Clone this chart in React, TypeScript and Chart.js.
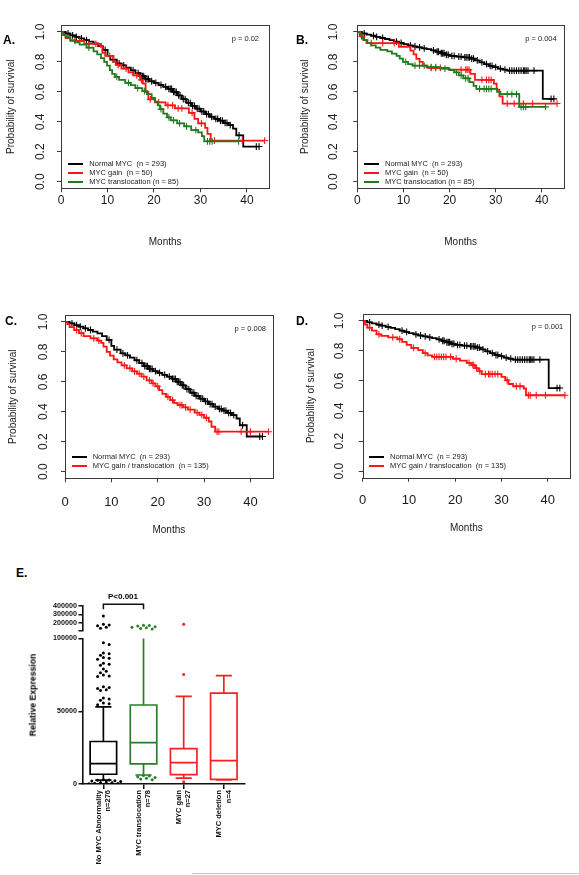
import React, { useEffect, useRef } from 'react';
import { Chart, registerables } from 'chart.js';

Chart.register(...registerables);
Chart.defaults.font.family = "'Liberation Sans', Arial, Helvetica, sans-serif";

type Pt = [number, number];

// ---------------- Kaplan–Meier data (months, survival probability) ----------------
const MONTH_TICKS = [0, 10, 20, 30, 40];
const SURVIVAL_TICKS = [0, 0.2, 0.4, 0.6, 0.8, 1.0];
const MONTH_MAX = 44.8;
const SURVIVAL_MIN = -0.044;
const SURVIVAL_MAX = 1.046;

// Panels A & C – Normal MYC (n = 293)
const osNormalSteps: Pt[] = [
  [0, 1], [1, 0.99], [2, 0.978], [3, 0.968], [4, 0.957], [5, 0.946], [6, 0.935], [7, 0.924],
  [8, 0.905], [9, 0.88], [10, 0.84], [10.6, 0.815], [12, 0.79], [13, 0.777], [14, 0.762],
  [15, 0.744], [16, 0.725], [17, 0.705], [18, 0.686], [19, 0.671], [20, 0.66], [21, 0.646],
  [22, 0.634], [23, 0.62], [24, 0.6], [25, 0.576], [26, 0.551], [27, 0.527], [28, 0.506],
  [29, 0.488], [30, 0.469], [31, 0.451], [32, 0.434], [33, 0.42], [34, 0.408], [35, 0.393],
  [36, 0.378], [37, 0.355], [37.7, 0.31], [39.2, 0.235], [42.6, 0.235],
];
const osNormalCensored: Pt[] = [
  [1.5, 0.99], [2.5, 0.978], [3.3, 0.968], [4.4, 0.957], [5.5, 0.946], [9.5, 0.88], [11.2, 0.815],
  [12.5, 0.79], [13.5, 0.777], [15.5, 0.744], [16.6, 0.725], [17.2, 0.705], [17.5, 0.705],
  [17.8, 0.705], [18.2, 0.686], [18.5, 0.686], [18.8, 0.686], [19.5, 0.671], [20.4, 0.66],
  [21.5, 0.646], [22.5, 0.634], [23.2, 0.62], [23.5, 0.62], [23.8, 0.62], [24.2, 0.6], [24.5, 0.6],
  [24.8, 0.6], [25.3, 0.576], [25.6, 0.576], [26.3, 0.551], [26.7, 0.551], [27.4, 0.527],
  [27.8, 0.527], [28.3, 0.506], [28.7, 0.506], [29.3, 0.488], [29.7, 0.488], [30.3, 0.469],
  [30.7, 0.469], [31.3, 0.451], [31.7, 0.451], [32.4, 0.434], [33.3, 0.42], [33.7, 0.42],
  [34.3, 0.408], [34.7, 0.408], [35.3, 0.393], [35.7, 0.393], [36.4, 0.378], [38.3, 0.31],
  [42, 0.235], [42.6, 0.235],
];
// Panel A – MYC gain (n = 50)
const osGainSteps: Pt[] = [
  [0, 1], [0.5, 0.98], [1, 0.96], [2, 0.94], [5, 0.92], [8.6, 0.9], [8.9, 0.86], [9.5, 0.84],
  [11.3, 0.8], [11.8, 0.78], [13, 0.755], [14.5, 0.73], [15.5, 0.71], [17, 0.68], [17.6, 0.655],
  [18.2, 0.6], [18.8, 0.55], [20.2, 0.53], [22.5, 0.51], [24.5, 0.49], [27.5, 0.46], [28.7, 0.42],
  [29.5, 0.39], [31, 0.36], [31.5, 0.32], [32.2, 0.275], [43.8, 0.275],
];
const osGainCensored: Pt[] = [
  [3, 0.94], [4, 0.94], [6, 0.92], [7.5, 0.92], [10.5, 0.84], [12.3, 0.78], [14, 0.755],
  [16.3, 0.71], [17.3, 0.68], [19.2, 0.55], [21, 0.53], [23, 0.51], [24, 0.51], [25.2, 0.49],
  [26, 0.49], [28.2, 0.46], [30.2, 0.39], [33, 0.275], [39, 0.275], [43.8, 0.275],
];
// Panel A – MYC translocation (n = 85)
const osTransSteps: Pt[] = [
  [0, 1], [0.5, 0.98], [1, 0.965], [2, 0.945], [3, 0.93], [4, 0.915], [5.5, 0.895], [7, 0.87],
  [7.8, 0.85], [8.6, 0.825], [9.3, 0.8], [9.9, 0.775], [10.5, 0.745], [11, 0.72], [11.6, 0.7],
  [12.5, 0.68], [13.8, 0.66], [15, 0.645], [16, 0.625], [17.5, 0.605], [18.5, 0.585], [19.5, 0.56],
  [20.2, 0.535], [20.8, 0.51], [21.3, 0.485], [22, 0.455], [22.8, 0.43], [23.6, 0.41], [25, 0.39],
  [26.5, 0.37], [28, 0.345], [29.5, 0.33], [30.3, 0.305], [30.8, 0.27], [38.2, 0.27],
];
const osTransCensored: Pt[] = [
  [6, 0.895], [12, 0.7], [14.5, 0.66], [16.5, 0.625], [18, 0.605], [21.5, 0.485], [23.2, 0.43],
  [24.2, 0.41], [25.5, 0.39], [27, 0.37], [29, 0.345], [31.5, 0.27], [32, 0.27], [32.5, 0.27],
  [38.2, 0.27],
];
// Panel C – MYC gain / translocation (n = 135)
const osGainTransSteps: Pt[] = [
  [0, 1], [0.5, 0.985], [1, 0.965], [2, 0.945], [3, 0.925], [4, 0.905], [5.5, 0.89], [7, 0.875],
  [7.8, 0.86], [8.3, 0.835], [9, 0.8], [9.7, 0.775], [10.5, 0.75], [11.3, 0.73], [12.2, 0.71],
  [13.3, 0.69], [14.5, 0.67], [15.5, 0.655], [16.5, 0.635], [17.6, 0.61], [18.7, 0.59], [19.5, 0.57],
  [20.3, 0.545], [21, 0.52], [21.8, 0.5], [22.7, 0.478], [23.5, 0.46], [24.3, 0.445], [25.5, 0.43],
  [26.5, 0.415], [28, 0.395], [29, 0.38], [30, 0.36], [31, 0.335], [31.6, 0.3], [32.4, 0.267],
  [43.9, 0.267],
];
const osGainTransCensored: Pt[] = [
  [2.5, 0.945], [3.5, 0.925], [6.2, 0.89], [7.3, 0.875], [12.8, 0.71], [14, 0.69], [15, 0.67],
  [16, 0.655], [17, 0.635], [18.2, 0.61], [19, 0.59], [20, 0.57], [22.2, 0.5], [23.2, 0.478],
  [24.8, 0.445], [25.2, 0.445], [26, 0.43], [27, 0.415], [28.5, 0.395], [29.5, 0.38], [30.5, 0.36],
  [32.8, 0.267], [33.2, 0.267], [38, 0.267], [40, 0.267], [43.9, 0.267],
];

// Panels B & D – Normal MYC (n = 293)
const pfsNormalSteps: Pt[] = [
  [0, 1], [1, 0.99], [2, 0.983], [3, 0.975], [4, 0.968], [5, 0.96], [6, 0.953], [7, 0.945],
  [8, 0.935], [9, 0.927], [10, 0.918], [11, 0.91], [12, 0.903], [13, 0.897], [14, 0.891],
  [15, 0.885], [16, 0.877], [17, 0.868], [18, 0.858], [19, 0.848], [20, 0.84], [21.5, 0.835],
  [23, 0.83], [24.5, 0.822], [25.5, 0.81], [26.5, 0.797], [27.5, 0.785], [28.5, 0.773],
  [29.5, 0.765], [30.5, 0.755], [31.5, 0.748], [32.5, 0.742], [40.2, 0.553], [42.6, 0.553],
];
const pfsNormalCensored: Pt[] = [
  [1.5, 0.99], [3.5, 0.975], [4.2, 0.968], [5.5, 0.96], [8.5, 0.935], [9.5, 0.927], [11.5, 0.91],
  [12.5, 0.903], [13.5, 0.897], [14.5, 0.891], [16.5, 0.877], [17.3, 0.868], [17.6, 0.868],
  [18.2, 0.858], [18.5, 0.858], [18.8, 0.858], [19.3, 0.848], [19.7, 0.848], [20.5, 0.84],
  [21, 0.84], [22, 0.835], [22.5, 0.835], [23.3, 0.83], [23.6, 0.83], [24, 0.83], [24.3, 0.83],
  [24.8, 0.822], [25.2, 0.822], [26, 0.81], [27, 0.797], [28, 0.785], [28.8, 0.773], [29.2, 0.773],
  [30, 0.765], [31, 0.755], [32, 0.748], [33, 0.742], [33.5, 0.742], [34, 0.742], [34.5, 0.742],
  [35, 0.742], [35.5, 0.742], [36, 0.742], [36.3, 0.742], [36.6, 0.742], [37, 0.742], [38.3, 0.742],
  [42, 0.553], [42.6, 0.553],
];
// Panel B – MYC gain (n = 50)
const pfsGainSteps: Pt[] = [
  [0, 1], [0.7, 0.97], [1.3, 0.945], [2, 0.925], [9, 0.9], [11.5, 0.875], [12.2, 0.85],
  [12.8, 0.82], [13.5, 0.8], [14.2, 0.775], [15.2, 0.76], [19.8, 0.748], [24.5, 0.72], [25.5, 0.68],
  [29.6, 0.655], [30.2, 0.615], [30.8, 0.57], [31.5, 0.522], [43.3, 0.522],
];
const pfsGainCensored: Pt[] = [
  [1, 0.97], [3, 0.925], [5.5, 0.925], [8, 0.925], [16, 0.76], [17, 0.76], [18, 0.76],
  [22.5, 0.748], [23.5, 0.748], [23.8, 0.748], [24.2, 0.748], [27, 0.68], [28, 0.68], [28.5, 0.68],
  [29, 0.68], [32.5, 0.522], [34, 0.522], [36, 0.522], [38, 0.522], [43.3, 0.522],
];
// Panel B – MYC translocation (n = 85)
const pfsTransSteps: Pt[] = [
  [0, 1], [0.5, 0.978], [1, 0.96], [1.5, 0.945], [2.2, 0.925], [3, 0.91], [4, 0.895], [5, 0.88],
  [6.5, 0.87], [7.5, 0.855], [8.5, 0.84], [9.2, 0.822], [9.9, 0.8], [11, 0.785], [12, 0.775],
  [15, 0.765], [18, 0.755], [20, 0.745], [21, 0.73], [22, 0.71], [23, 0.69], [24.3, 0.665],
  [25.2, 0.64], [25.8, 0.62], [30.3, 0.6], [31, 0.585], [35.1, 0.5], [40.8, 0.5],
];
const pfsTransCensored: Pt[] = [
  [10.5, 0.8], [12.5, 0.775], [13.5, 0.775], [14.5, 0.775], [16, 0.765], [17, 0.765], [19, 0.755],
  [21.5, 0.73], [22.5, 0.71], [23.5, 0.69], [24, 0.69], [26.5, 0.62], [27.5, 0.62], [28, 0.62],
  [28.5, 0.62], [29, 0.62], [32.5, 0.585], [33.5, 0.585], [34.5, 0.585], [35.5, 0.5], [36, 0.5],
  [36.5, 0.5], [40.8, 0.5],
];
// Panel D – MYC gain / translocation (n = 135)
const pfsGainTransSteps: Pt[] = [
  [0, 1], [0.5, 0.975], [1, 0.955], [2, 0.935], [3, 0.91], [4, 0.9], [5.5, 0.89], [7.5, 0.878],
  [8.5, 0.86], [9.5, 0.84], [10.5, 0.82], [12, 0.805], [13, 0.785], [14, 0.77], [15, 0.76],
  [19.5, 0.748], [21, 0.735], [22.5, 0.72], [23.5, 0.705], [24.3, 0.685], [25, 0.665],
  [25.7, 0.645], [30, 0.627], [30.8, 0.605], [31.5, 0.58], [32.5, 0.565], [34.8, 0.55],
  [35.3, 0.505], [43.7, 0.505],
];
const pfsGainTransCensored: Pt[] = [
  [1.5, 0.955], [3.5, 0.91], [6.5, 0.89], [8, 0.878], [11, 0.82], [13.5, 0.785], [15.5, 0.76],
  [16, 0.76], [16.5, 0.76], [17, 0.76], [17.5, 0.76], [18, 0.76], [19, 0.76], [20.2, 0.748],
  [23, 0.72], [23.8, 0.705], [24, 0.705], [24.6, 0.685], [25.3, 0.665], [26.5, 0.645], [27.2, 0.645],
  [27.5, 0.645], [28, 0.645], [28.6, 0.645], [29.2, 0.645], [31.2, 0.605], [33.2, 0.565],
  [34, 0.565], [35.8, 0.505], [36.2, 0.505], [37.5, 0.505], [39.5, 0.505], [43.7, 0.505],
];

const LABEL_NORMAL = 'Normal MYC  (n = 293)';
const LABEL_GAIN = 'MYC gain  (n = 50)';
const LABEL_TRANS = 'MYC translocation (n = 85)';
const LABEL_GAIN_TRANS = 'MYC gain / translocation  (n = 135)';
const P_VALUES = ['p = 0.02', 'p = 0.004', 'p = 0.008', 'p = 0.001'];

// ---------------- Panel E: relative MYC expression ----------------
const exprGroups = ['No MYC Abnormality', 'MYC translocation', 'MYC gain', 'MYC deletion'];
const exprCounts = ['n=276', 'n=78', 'n=27', 'n=4'];
const exprQ1 = [6700, 13800, 6400, 3200];
const exprMedian = [14000, 28500, 14700, 16000];
const exprQ3 = [29200, 54300, 24300, 62500];
const exprWhiskerLow = [2700, 6200, 4100, 2800];
const exprWhiskerHigh = [53000, 100000, 60200, 74500];
const exprHighCapShown = [true, false, true, true];
const outliersNoAbnLower = [
  97000, 95800, 90100, 89600, 88500, 87000, 86500, 85800, 83000, 82300, 81600, 79000, 77500,
  76400, 75000, 74300, 73800, 66900, 66400, 65700, 64800, 64300, 59100, 58400, 57500, 55600,
  55200, 54500, 2900, 2750, 2600, 2300, 2000, 1700, 1400, 1100, 800, 500, 300, 150,
];
const outliersNoAbnUpper = [280000, 181000, 172000, 164000, 145000, 133000];
const outliersTransLower = [5900, 5500, 5000, 4500, 4000, 3400, 2900];
const outliersTransUpper = [168000, 165000, 160000, 152000, 145000, 138000, 130000, 125000];
const outliersGainLower = [75200, 1600];
const outliersGainUpper = [180000];
const EXPR_LOWER_TICKS = [0, 50000, 100000];
const EXPR_UPPER_TICKS = [100000, 200000, 300000, 400000];
const EXPR_LOWER_MAX = 100000;
const EXPR_UPPER_MIN = 100000;
const EXPR_UPPER_MAX = 400000;
const bracketGroups = [0, 1];
const bracketLevel = 420000;
const bracketFoot = 360000;
const bracketText = 'P<0.001';

// ---------------- styling ----------------
const FONT = "'Liberation Sans', Arial, Helvetica, sans-serif";
const BLACK = '#000000';
const RED = '#ff1414';
const GREEN = '#1f7a1f';
const E_GREEN = '#2a7d2a';
const E_RED = '#f22222';
const TEXT = '#1a1a1a';
const FRAME = '#3a3a3a';

type Curve = { steps: Pt[]; censored: Pt[]; color: string; label: string };
type KMLayout = {
  left: number; top: number; width: number; height: number;
  yAxisWidth: number; xAxisHeight: number; padTop: number; padRight: number;
  yTickPad: number; yTitlePad: number; xTickPad: number; xTickSize: number; xTitlePad: number;
};

const framePlugin = {
  id: 'kmFrame',
  afterDatasetsDraw(chart: any) {
    const { ctx, chartArea: a } = chart;
    ctx.save();
    ctx.strokeStyle = FRAME;
    ctx.lineWidth = 1;
    ctx.strokeRect(Math.round(a.left) + 0.5, Math.round(a.top) + 0.5, Math.round(a.right - a.left), Math.round(a.bottom - a.top));
    ctx.restore();
  },
};

function KMChart({ layout, curves }: { layout: KMLayout; curves: Curve[] }) {
  const ref = useRef<HTMLCanvasElement>(null);
  useEffect(() => {
    const L = layout;
    const n = curves.length;
    const datasets: any[] = [];
    curves.forEach((c, i) => {
      const base = (n - i) * 2;
      datasets.push({
        data: c.steps.map(([x, y]) => ({ x, y })),
        borderColor: c.color, borderWidth: 1.8, stepped: true, pointRadius: 0,
        fill: false, order: base, borderCapStyle: 'butt', borderJoinStyle: 'miter',
      });
      datasets.push({
        data: c.censored.map(([x, y]) => ({ x, y })),
        showLine: false, pointStyle: 'cross', pointRadius: 3.4, pointBorderWidth: 1.1,
        pointBorderColor: c.color, pointBackgroundColor: c.color, borderColor: c.color, order: base - 1,
      });
    });
    const grid = { drawOnChartArea: false, drawTicks: true, tickLength: 4, color: FRAME, lineWidth: 1 };
    const chart = new Chart(ref.current as HTMLCanvasElement, {
      type: 'line',
      data: { datasets },
      options: {
        animation: false, responsive: false, events: [],
        layout: { padding: { top: L.padTop, right: L.padRight, left: 0, bottom: 0 } },
        plugins: { legend: { display: false }, tooltip: { enabled: false } },
        scales: {
          x: {
            type: 'linear', min: 0, max: MONTH_MAX,
            afterBuildTicks: (s: any) => { s.ticks = MONTH_TICKS.map((value) => ({ value })); },
            afterFit: (s: any) => { s.height = L.xAxisHeight; s.paddingLeft = 0; s.paddingRight = 0; },
            border: { display: false },
            grid,
            ticks: {
              color: TEXT, font: { size: L.xTickSize, lineHeight: 1 }, padding: L.xTickPad,
              minRotation: 0, maxRotation: 0, autoSkip: false, callback: (v: any) => String(v),
            },
            title: { display: true, text: 'Months', color: TEXT, font: { size: 10, lineHeight: 1.2 }, padding: { top: 0, bottom: L.xTitlePad } },
          },
          y: {
            type: 'linear', min: SURVIVAL_MIN, max: SURVIVAL_MAX,
            afterBuildTicks: (s: any) => { s.ticks = SURVIVAL_TICKS.map((value) => ({ value })); },
            afterFit: (s: any) => { s.width = L.yAxisWidth; s.paddingTop = 0; s.paddingBottom = 0; },
            border: { display: false },
            grid,
            ticks: {
              color: TEXT, font: { size: 12, lineHeight: 1 }, padding: L.yTickPad,
              minRotation: 90, maxRotation: 90, crossAlign: 'center', autoSkip: false,
              callback: (v: any) => Number(v).toFixed(1),
            },
            title: { display: true, text: 'Probability of survival', color: TEXT, font: { size: 10, lineHeight: 1.2 }, padding: { top: L.yTitlePad, bottom: 0 } },
          },
        },
      } as any,
      plugins: [framePlugin],
    });
    return () => chart.destroy();
  }, []);
  return (
    <canvas ref={ref} width={layout.width} height={layout.height}
      style={{ position: 'absolute', left: layout.left, top: layout.top, width: layout.width, height: layout.height, display: 'block' }} />
  );
}

// beeswarm placement of dots (layout only; values come from the arrays above)
function swarm(center: number, values: number[], pxPerValue: number, pxPerCat: number, gap = 3.4) {
  const placed: { x: number; y: number }[] = [];
  const out: { x: number; y: number }[] = [];
  [...values].sort((a, b) => b - a).forEach((v) => {
    const py = v * pxPerValue;
    for (let k = 0; k < 60; k++) {
      const off = (k === 0 ? 0 : (k % 2 ? 1 : -1) * Math.ceil(k / 2)) * gap * 0.85;
      if (placed.every((p) => Math.hypot(p.x - off, p.y - py) >= gap)) {
        placed.push({ x: off, y: py });
        out.push({ x: center + off / pxPerCat, y: v });
        break;
      }
    }
  });
  return out;
}

const E_LAYOUT = { left: 0, top: 585, width: 260, height: 290, yAxisWidth: 82.5, xAxisHeight: 91, padTop: 21, padRight: 15.7 };
const E_X_MIN = -0.52;
const E_X_MAX = 3.51;
const E_WEIGHTS = { top: 25, gap: 7.5, bottom: 145.5 };
const BOX_HALF = 0.33;
const CAP_HALF = 0.18;

function ExpressionChart() {
  const ref = useRef<HTMLCanvasElement>(null);
  useEffect(() => {
    const colors = [BLACK, E_GREEN, E_RED, E_RED];
    const plotW = E_LAYOUT.width - E_LAYOUT.yAxisWidth - E_LAYOUT.padRight;
    const pxPerCat = plotW / (E_X_MAX - E_X_MIN);
    const pxLower = E_WEIGHTS.bottom / EXPR_LOWER_MAX;
    const pxUpper = E_WEIGHTS.top / (EXPR_UPPER_MAX - EXPR_UPPER_MIN);

    const datasets: any[] = [];
    exprGroups.forEach((_, g) => {
      const gap = { x: g, y: null };
      const pts: any[] = [
        { x: g - BOX_HALF, y: exprQ1[g] }, { x: g - BOX_HALF, y: exprQ3[g] },
        { x: g + BOX_HALF, y: exprQ3[g] }, { x: g + BOX_HALF, y: exprQ1[g] },
        { x: g - BOX_HALF, y: exprQ1[g] }, gap,
        { x: g - BOX_HALF, y: exprMedian[g] }, { x: g + BOX_HALF, y: exprMedian[g] }, gap,
        { x: g, y: exprQ3[g] }, { x: g, y: exprWhiskerHigh[g] }, gap,
        ...(exprHighCapShown[g] ? [{ x: g - CAP_HALF, y: exprWhiskerHigh[g] }, { x: g + CAP_HALF, y: exprWhiskerHigh[g] }, gap] : []),
        { x: g, y: exprQ1[g] }, { x: g, y: exprWhiskerLow[g] }, gap,
        { x: g - CAP_HALF, y: exprWhiskerLow[g] }, { x: g + CAP_HALF, y: exprWhiskerLow[g] },
      ];
      datasets.push({
        data: pts, yAxisID: 'yBot', showLine: true, spanGaps: false, pointRadius: 0,
        borderColor: colors[g], borderWidth: 1.7, borderCapStyle: 'square', borderJoinStyle: 'miter', order: 2,
      });
    });
    const dots = (g: number, values: number[], axis: string) => ({
      data: swarm(g, values, axis === 'yBot' ? pxLower : pxUpper, pxPerCat),
      yAxisID: axis, showLine: false, pointRadius: 1.5, pointBorderWidth: 0,
      pointBackgroundColor: colors[g], backgroundColor: colors[g], order: 1,
    });
    datasets.push(dots(0, outliersNoAbnLower, 'yBot'));
    datasets.push(dots(0, outliersNoAbnUpper, 'yTop'));
    datasets.push(dots(1, outliersTransLower, 'yBot'));
    datasets.push(dots(1, outliersTransUpper, 'yTop'));
    datasets.push(dots(2, outliersGainLower, 'yBot'));
    datasets.push(dots(2, outliersGainUpper, 'yTop'));
    datasets.push({
      data: [
        { x: bracketGroups[0], y: bracketFoot }, { x: bracketGroups[0], y: bracketLevel },
        { x: bracketGroups[1], y: bracketLevel }, { x: bracketGroups[1], y: bracketFoot },
      ],
      yAxisID: 'yTop', showLine: true, pointRadius: 0, borderColor: '#111', borderWidth: 1.5, clip: false, order: 0,
    });

    const fitY = (s: any) => { s.width = E_LAYOUT.yAxisWidth; s.paddingTop = 0; s.paddingBottom = 0; };
    const yGrid = { drawOnChartArea: false, drawTicks: true, tickLength: 4, color: '#111', lineWidth: 1.5 };
    const yTicks = { padding: 1.5, color: '#111', font: { size: 7.2, weight: 'bold' }, autoSkip: false };
    const chart = new Chart(ref.current as HTMLCanvasElement, {
      type: 'scatter',
      data: { datasets },
      options: {
        animation: false, responsive: false, events: [],
        layout: { padding: { top: E_LAYOUT.padTop, right: E_LAYOUT.padRight, left: 0, bottom: 0 } },
        plugins: { legend: { display: false }, tooltip: { enabled: false } },
        scales: {
          x: {
            type: 'linear', min: E_X_MIN, max: E_X_MAX,
            afterBuildTicks: (s: any) => { s.ticks = exprGroups.map((_, i) => ({ value: i })); },
            afterFit: (s: any) => { s.height = E_LAYOUT.xAxisHeight; s.paddingLeft = 0; s.paddingRight = 0; },
            border: { display: true, color: '#111', width: 1.6 },
            grid: { drawOnChartArea: false, drawTicks: true, tickLength: 5, color: '#111', lineWidth: 1.5 },
            ticks: {
              autoSkip: false, minRotation: 90, maxRotation: 90, padding: 1, labelOffset: -4.6,
              color: '#111', font: { size: 7.5, weight: 'bold', lineHeight: 1.23 },
              callback: (v: any) => [exprGroups[v], exprCounts[v]],
            },
          },
          yBot: {
            type: 'linear', position: 'left', stack: 'expr', stackWeight: E_WEIGHTS.bottom,
            min: 0, max: EXPR_LOWER_MAX,
            afterBuildTicks: (s: any) => { s.ticks = EXPR_LOWER_TICKS.map((value) => ({ value })); },
            afterFit: fitY,
            border: { display: true, color: '#111', width: 1.6 },
            grid: yGrid,
            ticks: { ...yTicks, callback: (v: any) => String(v) },
          },
          yGap: {
            type: 'linear', position: 'left', stack: 'expr', stackWeight: E_WEIGHTS.gap, min: 0, max: 1,
            afterFit: fitY,
            border: { display: false }, grid: { display: false }, ticks: { display: false },
          },
          yTop: {
            type: 'linear', position: 'left', stack: 'expr', stackWeight: E_WEIGHTS.top,
            min: EXPR_UPPER_MIN, max: EXPR_UPPER_MAX,
            afterBuildTicks: (s: any) => { s.ticks = EXPR_UPPER_TICKS.map((value) => ({ value })); },
            afterFit: fitY,
            border: { display: true, color: '#111', width: 1.6 },
            grid: yGrid,
            ticks: { ...yTicks, callback: (v: any) => (v === EXPR_UPPER_MIN ? '' : String(v)) },
          },
        },
      } as any,
    });
    return () => chart.destroy();
  }, []);
  return (
    <canvas ref={ref} width={E_LAYOUT.width} height={E_LAYOUT.height}
      style={{ position: 'absolute', left: E_LAYOUT.left, top: E_LAYOUT.top, width: E_LAYOUT.width, height: E_LAYOUT.height, display: 'block' }} />
  );
}

// ---------------- HTML text helpers ----------------
function Text({ x, y, text, size, bold = false, anchor = 'left', rotate = 0, color = TEXT }: any) {
  const tx = anchor === 'left' ? '0%' : anchor === 'right' ? '-100%' : '-50%';
  return (
    <div style={{
      position: 'absolute', left: x, top: y, transform: `translate(${tx}, -50%)${rotate ? ` rotate(${rotate}deg)` : ''}`,
      fontFamily: FONT, fontSize: size, fontWeight: bold ? 'bold' : 'normal', color, whiteSpace: 'pre', lineHeight: 1,
    }}>{text}</div>
  );
}

function Legend({ lineX, textX, rows, items }: { lineX: number; textX: number; rows: number[]; items: Curve[] }) {
  return (
    <>
      {items.map((c, i) => (
        <React.Fragment key={i}>
          <div style={{ position: 'absolute', left: lineX, top: rows[i] - 1, width: 15, height: 2, background: c.color }} />
          <Text x={textX} y={rows[i]} text={c.label} size={7.5} color="#222" />
        </React.Fragment>
      ))}
    </>
  );
}

const LAYOUT_A: KMLayout = { left: 0, top: 20, width: 285, height: 235, yAxisWidth: 61, xAxisHeight: 66.7, padTop: 4.7, padRight: 15.7, yTickPad: 8.2, yTitlePad: 5, xTickPad: 2, xTickSize: 12, xTitlePad: 6.3 };
const LAYOUT_B: KMLayout = { left: 290, top: 20, width: 289, height: 235, yAxisWidth: 67.3, xAxisHeight: 66.7, padTop: 4.7, padRight: 15, yTickPad: 11.7, yTitlePad: 9, xTickPad: 2, xTickSize: 12, xTitlePad: 6.3 };
const LAYOUT_C: KMLayout = { left: 0, top: 305, width: 285, height: 235, yAxisWidth: 65, xAxisHeight: 61.7, padTop: 10, padRight: 12.3, yTickPad: 9.4, yTitlePad: 7.3, xTickPad: 13.9, xTickSize: 13, xTitlePad: 4 };
const LAYOUT_D: KMLayout = { left: 290, top: 305, width: 289, height: 235, yAxisWidth: 72.7, xAxisHeight: 62.3, padTop: 9, padRight: 9, yTickPad: 10.4, yTitlePad: 15.7, xTickPad: 11.8, xTickSize: 13, xTitlePad: 6 };

export default function App() {
  const curvesA: Curve[] = [
    { steps: osNormalSteps, censored: osNormalCensored, color: BLACK, label: LABEL_NORMAL },
    { steps: osGainSteps, censored: osGainCensored, color: RED, label: LABEL_GAIN },
    { steps: osTransSteps, censored: osTransCensored, color: GREEN, label: LABEL_TRANS },
  ];
  const curvesB: Curve[] = [
    { steps: pfsNormalSteps, censored: pfsNormalCensored, color: BLACK, label: LABEL_NORMAL },
    { steps: pfsGainSteps, censored: pfsGainCensored, color: RED, label: LABEL_GAIN },
    { steps: pfsTransSteps, censored: pfsTransCensored, color: GREEN, label: LABEL_TRANS },
  ];
  const curvesC: Curve[] = [
    { steps: osNormalSteps, censored: osNormalCensored, color: BLACK, label: LABEL_NORMAL },
    { steps: osGainTransSteps, censored: osGainTransCensored, color: RED, label: LABEL_GAIN_TRANS },
  ];
  const curvesD: Curve[] = [
    { steps: pfsNormalSteps, censored: pfsNormalCensored, color: BLACK, label: LABEL_NORMAL },
    { steps: pfsGainTransSteps, censored: pfsGainTransCensored, color: RED, label: LABEL_GAIN_TRANS },
  ];
  return (
    <div style={{ position: 'absolute', left: 0, top: 0, width: 579, height: 875, overflow: 'hidden', background: '#fff' }}>
      <KMChart layout={LAYOUT_A} curves={curvesA} />
      <KMChart layout={LAYOUT_B} curves={curvesB} />
      <KMChart layout={LAYOUT_C} curves={curvesC} />
      <KMChart layout={LAYOUT_D} curves={curvesD} />
      <ExpressionChart />

      <Text x={3} y={40} text="A." size={12} bold color="#000" />
      <Text x={296} y={40} text="B." size={12} bold color="#000" />
      <Text x={5} y={321} text="C." size={12} bold color="#000" />
      <Text x={296} y={321} text="D." size={12} bold color="#000" />
      <Text x={16} y={573} text="E." size={12} bold color="#000" />

      <Text x={259} y={39} text={P_VALUES[0]} size={7.5} anchor="right" color="#222" />
      <Text x={556.7} y={39} text={P_VALUES[1]} size={7.5} anchor="right" color="#222" />
      <Text x={266} y={329} text={P_VALUES[2]} size={7.5} anchor="right" color="#222" />
      <Text x={563.3} y={327.3} text={P_VALUES[3]} size={7.5} anchor="right" color="#222" />

      <Legend lineX={68.3} textX={89.3} rows={[164, 173, 182]} items={curvesA} />
      <Legend lineX={364} textX={385} rows={[164, 173, 182]} items={curvesB} />
      <Legend lineX={71.7} textX={92.7} rows={[456.7, 465.7]} items={curvesC} />
      <Legend lineX={369} textX={390} rows={[456.7, 465.7]} items={curvesD} />

      <Text x={33} y={695} text="Relative Expression" size={8.7} bold anchor="center" rotate={-90} color="#000" />
      <Text x={123} y={596.7} text={bracketText} size={8} bold anchor="center" color="#000" />
      <div style={{ position: 'absolute', left: 192, top: 873, width: 387, height: 1, background: '#c4c4c4' }} />
    </div>
  );
}
